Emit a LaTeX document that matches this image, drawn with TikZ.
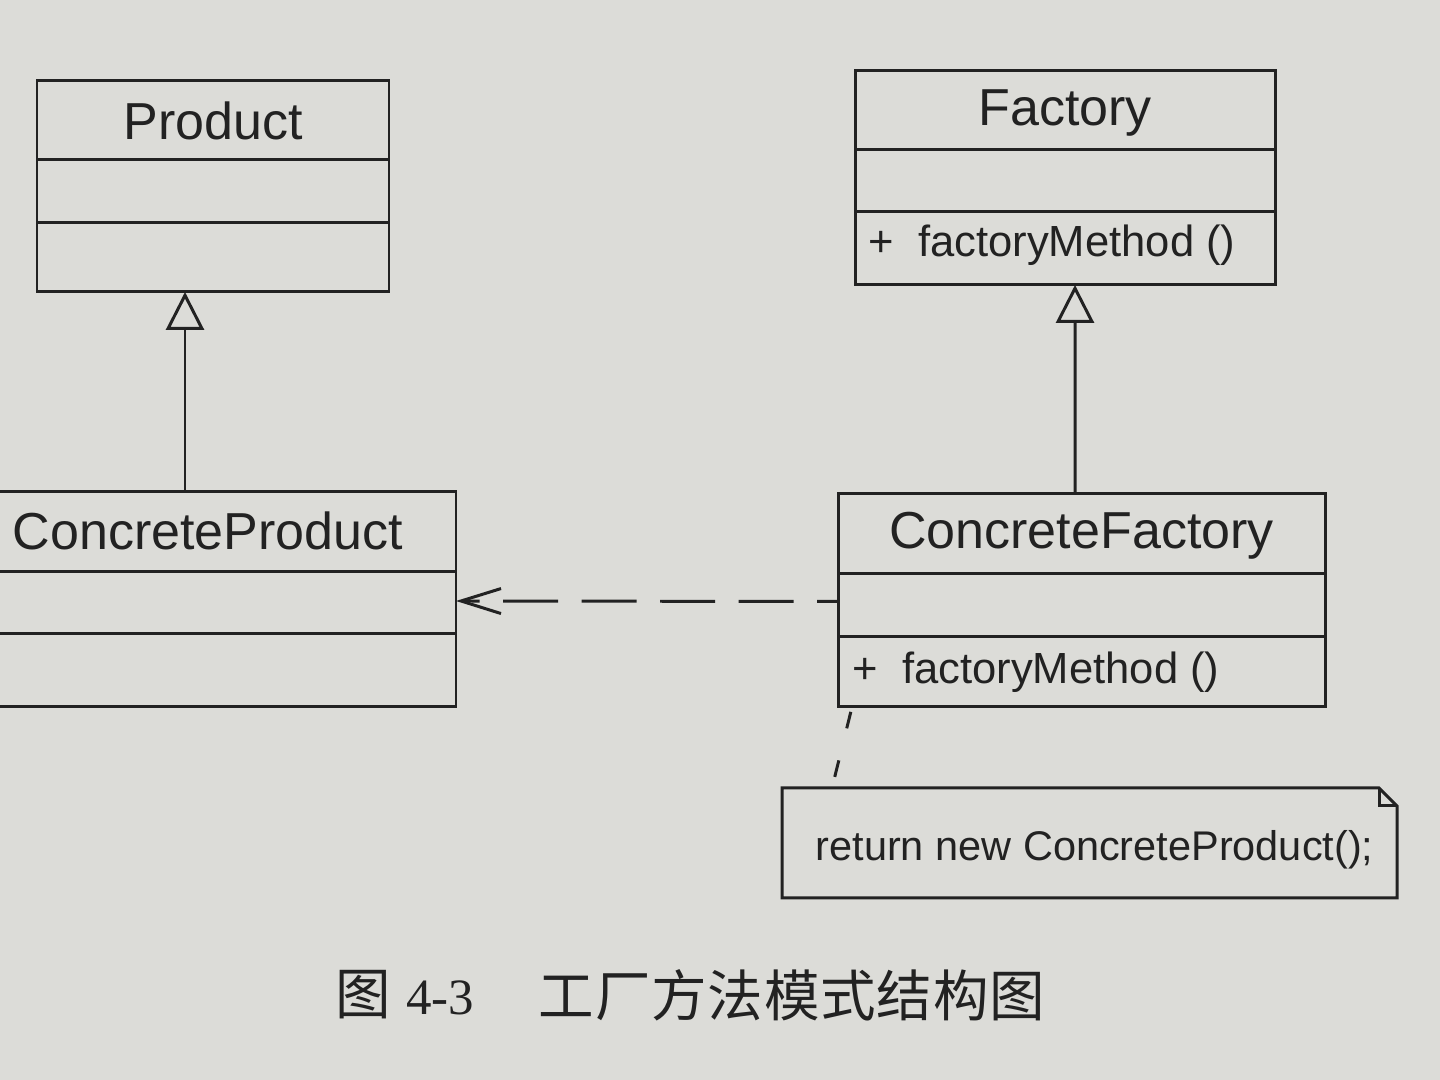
\documentclass[tikz,border=0pt]{standalone}
\usepackage{fontspec}
\setmainfont{Liberation Sans}
\newfontfamily\cjk{Noto Sans CJK SC}
\newfontfamily\serifnum{Liberation Serif}
\usetikzlibrary{positioning,arrows.meta}
\definecolor{paper}{RGB}{220,220,216}
\definecolor{ink}{RGB}{34,34,34}
\tikzset{
  cell/.style={draw=ink, line width=0.85pt, inner sep=0pt, outer sep=0pt, anchor=north,
    font=\fontsize{14.8}{16}\selectfont, text=ink},
  optext/.style={anchor=west, inner sep=0pt, font=\fontsize{12.4}{14}\selectfont, text=ink},
  inherit/.style={draw=ink, line width=0.85pt, -{Triangle[open, length=0.38cm, width=0.38cm]}},
  depend/.style={draw=ink, line width=0.85pt, dash pattern=on 0.55cm off 0.235cm, dash phase=0.34cm,
    -{Straight Barb[length=0.4cm, width=0.25cm]}},
  notelink/.style={draw=ink, line width=0.85pt, dash pattern=on 0.17cm off 0.33cm, dash phase=0.45cm},
}
\begin{document}
\begin{tikzpicture}
        \useasboundingbox (0,0) rectangle (14.4,10.8);
        \clip (0,0) rectangle (14.4,10.8);
        \fill[paper] (0,0) rectangle (14.4,10.8);
        %% product classes
        \node[cell, minimum width=3.52cm, minimum height=0.79cm] (prod) at (2.13,9.99) {Product};
        \node[cell, minimum width=3.52cm, minimum height=0.63cm, below=0pt of prod] (prod-attr) {};
        \node[cell, minimum width=3.52cm, minimum height=0.69cm, below=0pt of prod-attr] (prod-op) {};
        \node[cell, minimum width=4.96cm, minimum height=0.80cm, text depth=0.02cm] (cp) at (2.08,5.88) {ConcreteProduct};
        \node[cell, minimum width=4.96cm, minimum height=0.62cm, below=0pt of cp] (cp-attr) {};
        \node[cell, minimum width=4.96cm, minimum height=0.73cm, below=0pt of cp-attr] (cp-op) {};
        %% factory classes
        \node[cell, minimum width=4.20cm, minimum height=0.79cm, text depth=0.05cm] (fac) at (10.65,10.09) {Factory};
        \node[cell, minimum width=4.20cm, minimum height=0.62cm, below=0pt of fac] (fac-attr) {};
        \node[cell, minimum width=4.20cm, minimum height=0.73cm, below=0pt of fac-attr] (fac-op) {};
        \node[optext] (fac-m) at ([xshift=0.13cm,yshift=0.03cm]fac-op.west) {+\hspace{0.55em}factoryMethod ()};
        \node[cell, minimum width=4.87cm, minimum height=0.80cm, text depth=0.07cm] (cf) at (10.815,5.86) {ConcreteFactory};
        \node[cell, minimum width=4.87cm, minimum height=0.63cm, below=0pt of cf] (cf-attr) {};
        \node[cell, minimum width=4.87cm, minimum height=0.70cm, below=0pt of cf-attr] (cf-op) {};
        \node[optext] (cf-m) at ([xshift=0.14cm]cf-op.west) {+\hspace{0.55em}factoryMethod ()};
        %% note
        \draw[ink, line width=0.85pt] (7.82,2.92) -- (13.79,2.92) -- (13.97,2.74) -- (13.97,1.82)
            -- (7.82,1.82) -- cycle;
        \draw[ink, line width=0.85pt] (13.79,2.92) -- (13.79,2.74) -- (13.97,2.74);
        \node[optext, font=\fontsize{11.8}{13}\selectfont] (note) at (8.15,2.30) {return new ConcreteProduct();};
        \coordinate (note-top) at (8.32,2.92);
        %% connect
        \draw[inherit] ([xshift=-0.23cm]cp.north) -- ([xshift=-0.28cm]prod-op.south);
        \draw[inherit] ([xshift=-0.065cm]cf.north) -- ([xshift=0.10cm]fac-op.south);
        \draw[depend] ([yshift=0.04cm]cf-attr.west) -- ([yshift=0.02cm]cp-attr.east);
        \draw[notelink] ([xshift=0.14cm]cf-op.south west) -- (note-top);
        %% caption
        \node[anchor=west, inner sep=0pt, text=ink] (fig-no) at (3.35,0.85)
            {{\cjk\fontsize{15.8}{17}\selectfont 图}\hspace{0.15cm}{\serifnum\fontsize{14.5}{16}\selectfont 4-3}};
        \node[anchor=west, inner sep=0pt, text=ink] (fig-title) at (5.38,0.85)
            {\cjk\fontsize{15.8}{17}\selectfont\addfontfeature{LetterSpace=1.5}工厂方法模式结构图};
    \end{tikzpicture}
\end{document}
